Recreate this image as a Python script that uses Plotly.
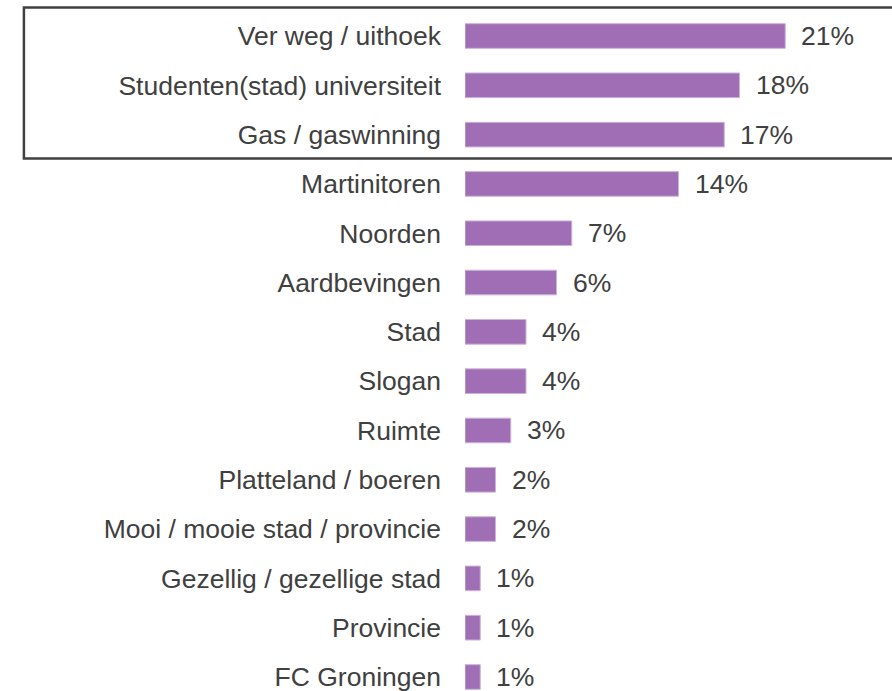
import plotly.graph_objects as go

categories = [
    "Ver weg / uithoek",
    "Studenten(stad) universiteit",
    "Gas / gaswinning",
    "Martinitoren",
    "Noorden",
    "Aardbevingen",
    "Stad",
    "Slogan",
    "Ruimte",
    "Platteland / boeren",
    "Mooi / mooie stad / provincie",
    "Gezellig / gezellige stad",
    "Provincie",
    "FC Groningen",
]
values = [21, 18, 17, 14, 7, 6, 4, 4, 3, 2, 2, 1, 1, 1]
value_labels = [f"{v}%" for v in values]

text_color = "#404040"
bar_color = "#A06EB5"
font = "Liberation Sans, Arial, sans-serif"

fig = go.Figure(
    go.Bar(
        x=values,
        y=categories,
        orientation="h",
        width=0.5,
        marker=dict(color=bar_color, line=dict(color="#CDB3DA", width=1)),
        hoverinfo="skip",
    )
)

# percentage labels next to the bars
for cat, v, lab in zip(categories, values, value_labels):
    fig.add_annotation(
        x=v, y=cat, text=lab, showarrow=False,
        xanchor="left", yanchor="middle", xshift=14,
        font=dict(size=26.5, color=text_color, family=font),
    )

# frame around the top three
fig.add_shape(
    type="rect", xref="paper", yref="paper",
    x0=-1.033, x1=1.01, y0=0.7842, y1=1.0066,
    line=dict(color=text_color, width=2.5),
)

fig.update_xaxes(
    range=[0, 28], visible=False, showgrid=False, zeroline=False,
)
fig.update_yaxes(
    categoryorder="array", categoryarray=categories,
    range=[13.284, -0.487],
    showgrid=False, zeroline=False, showline=False, ticks="",
    ticklabelstandoff=23,
    tickfont=dict(size=26.5, color=text_color, family=font),
)
fig.update_layout(
    width=892, height=691,
    margin=dict(l=465, r=0, t=12, b=0),
    plot_bgcolor="white", paper_bgcolor="white",
    showlegend=False,
)

# page has a default 8px body margin; drop it so the figure sits at 0,0
fig.write_html(
    "out.html",
    config={"displayModeBar": False},
    post_script="document.body.style.margin='0';document.body.style.overflow='hidden';",
)
